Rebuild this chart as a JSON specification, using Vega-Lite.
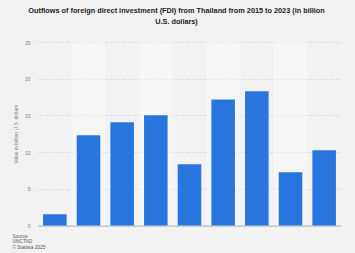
{
  "$schema": "https://vega.github.io/schema/vega-lite/v6.json",
  "autosize": "none",
  "width": 303,
  "height": 183.5,
  "padding": {"left": 38, "top": 42, "right": 14, "bottom": 27.5},
  "background": "#f2f2f2",
  "config": {
    "view": {"stroke": null},
    "font": "Liberation Sans",
    "axisY": {
      "values": [0, 5, 10, 15, 20, 25],
      "domain": false,
      "ticks": false,
      "labelFontSize": 5,
      "labelColor": "#808080",
      "labelPadding": 8,
      "labelOverlap": false,
      "grid": true,
      "gridColor": "#d9d9d9",
      "gridDash": [4, 1.5],
      "gridWidth": 0.8,
      "titleFontSize": 5,
      "titleFontWeight": "normal",
      "titleColor": "#808080",
      "titlePadding": 6
    }
  },
  "title": {
    "text": ["Outflows of foreign direct investment (FDI) from Thailand from 2015 to 2023 (in billion", "U.S. dollars)"],
    "fontSize": 7.3,
    "fontWeight": "bold",
    "color": "#222222",
    "lineHeight": 11,
    "anchor": "middle",
    "frame": "bounds",
    "offset": 15
  },
  "data": {
    "values": [
      {"year": 2015, "value": 1.54},
      {"year": 2016, "value": 12.3},
      {"year": 2017, "value": 14.07},
      {"year": 2018, "value": 15.03},
      {"year": 2019, "value": 8.35},
      {"year": 2020, "value": 17.17},
      {"year": 2021, "value": 18.3},
      {"year": 2022, "value": 7.26},
      {"year": 2023, "value": 10.26}
    ]
  },
  "encoding": {
    "x": {
      "field": "year",
      "type": "ordinal",
      "scale": {"paddingInner": 0.3, "paddingOuter": 0.15},
      "axis": {
        "labels": false,
        "ticks": false,
        "domainColor": "#b3b3b3",
        "domainWidth": 1,
        "title": ["Source", "UNCTAD", "© Statista 2025"],
        "titleFontSize": 4.8,
        "titleFontWeight": "normal",
        "titleColor": "#555555",
        "titleAnchor": "start",
        "titleAlign": "left",
        "titleBaseline": "top",
        "titleX": -26,
        "titleY": 8,
        "titleLineHeight": 5.4
      }
    }
  },
  "layer": [
    {
      "transform": [{"filter": "datum.year % 2 == 0"}],
      "mark": {"type": "bar", "width": 33.67, "color": "#ffffff", "opacity": 0.35},
      "encoding": {
        "y": {"datum": 25, "type": "quantitative", "scale": {"domain": [0, 25], "nice": false}, "title": "Value in billion U.S. dollars"},
        "y2": {"datum": 0}
      }
    },
    {
      "mark": {"type": "bar", "color": "#2876dd"},
      "encoding": {
        "y": {"field": "value", "type": "quantitative", "scale": {"domain": [0, 25], "nice": false}, "title": "Value in billion U.S. dollars"}
      }
    }
  ]
}
